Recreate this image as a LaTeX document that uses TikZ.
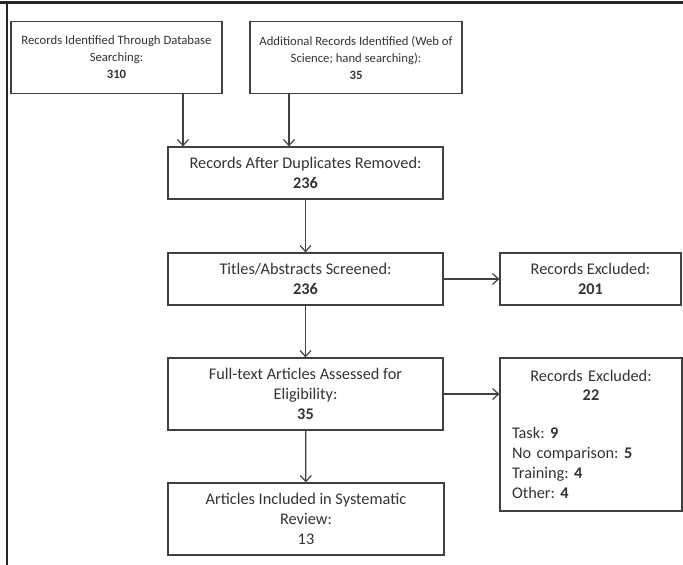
\documentclass[tikz,border=0pt]{standalone}
\usepackage{fontspec}
\setmainfont{Carlito}
\usetikzlibrary{arrows.meta}
\definecolor{boxline}{HTML}{404040}
\definecolor{boxtext}{HTML}{333333}

\begin{document}
\frenchspacing
\begin{tikzpicture}[x=1pt,y=-1pt,
  box/.style={draw=boxline,line width=1.2pt,text=boxtext,align=center,inner sep=0pt},
  topbox/.style={box,font=\fontsize{12.7}{17}\selectfont},
  midbox/.style={box,font=\fontsize{16.3}{20}\selectfont},
  arr/.style={draw=boxline,line width=1.2pt,-{Straight Barb[length=6pt,width=11pt]}}]
  \useasboundingbox (0,0) rectangle (683,565);
  % frame
  \draw[line width=3pt,black!85] (0,2.5) -- (683,2.5);
  \draw[line width=2.5pt,black!85] (7,1) -- (7,565);

  % sources
  \node[topbox,minimum width=211pt,minimum height=72pt] (db) at (116.5,57.5)
    {Records Identified Through Database\\Searching:\\\textbf{310}};
  \node[topbox,minimum width=212pt,minimum height=72pt] (add) at (356,57.5)
    {Additional Records Identified (Web of\\Science; hand searching):\\\textbf{35}};

  % main column
  \node[midbox,minimum width=275pt,minimum height=52pt] (dup) at (305.5,173)
    {Records After Duplicates Removed:\\\textbf{236}};
  \node[midbox,minimum width=275pt,minimum height=52pt] (screen) at (305.5,279)
    {Titles/Abstracts Screened:\\\textbf{236}};
  \node[midbox,minimum width=275pt,minimum height=72pt] (full) at (305.5,394)
    {Full-text Articles Assessed for\\Eligibility:\\\textbf{35}};
  \node[midbox,minimum width=276pt,minimum height=72pt] (incl) at (306,519)
    {Articles Included in Systematic\\Review:\\13};

  % exclusions
  \node[midbox,minimum width=181pt,minimum height=52pt] (excla) at (590.5,279)
    {Records Excluded:\\\textbf{201}};
  \node[box,font=\fontsize{16.3}{20}\selectfont,align=left,text width=158pt,
    minimum width=182pt,minimum height=153pt] (exclb) at (591,434.5)
    {{\centering Records Excluded:\\[-1pt]\textbf{22}\par}\vspace{18pt}
     Task: \textbf{9}\\No comparison: \textbf{5}\\Training: \textbf{4}\\Other: \textbf{4}};

  % arrows
  \draw[arr] ([xshift=66.5pt]db.south) -- ([xshift=66.5pt]db.south |- dup.north);
  \draw[arr] ([xshift=-67pt]add.south) -- ([xshift=-67pt]add.south |- dup.north);
  \draw[arr] (dup) -- (screen);
  \draw[arr] (screen) -- (excla);
  \draw[arr] (screen) -- (full);
  \draw[arr] (full.east) -- (full.east -| exclb.west);
  \draw[arr] (full) -- (incl);
\end{tikzpicture}
\end{document}
